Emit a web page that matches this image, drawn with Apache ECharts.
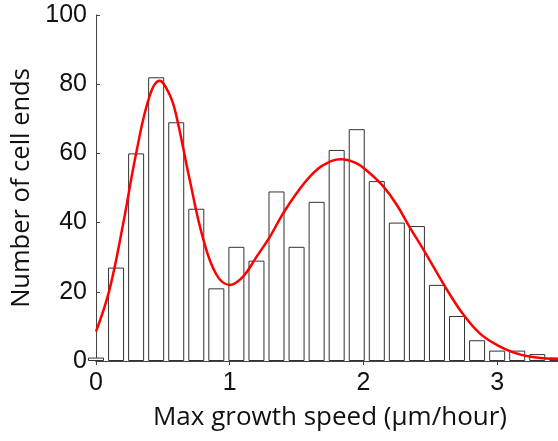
<!DOCTYPE html>
<html>
<head>
<meta charset="utf-8">
<script src="https://cdn.jsdelivr.net/npm/echarts@6/dist/echarts.min.js"></script>
<style>
  html, body { margin: 0; padding: 0; background: #fff; }
  #chart { width: 558px; height: 441px; }
</style>
</head>
<body>
<div id="chart"></div>
<script>
// histogram bins (centre of each bin, µm/hour) and counts
const binCenters = [0, 0.15, 0.3, 0.45, 0.6, 0.75, 0.9, 1.05, 1.2, 1.35, 1.5, 1.65,
  1.8, 1.95, 2.1, 2.25, 2.4, 2.55, 2.7, 2.85, 3.0, 3.15, 3.3, 3.45];
const counts = [1, 27, 60, 82, 69, 44, 21, 33, 29, 49, 33, 46,
  61, 67, 52, 40, 39, 22, 13, 6, 3, 3, 2, 1];

// fitted curve
const fitX = [0, 0.1, 0.2, 0.3, 0.4, 0.475, 0.55, 0.6, 0.7, 0.8, 0.9, 1.0,
  1.1, 1.2, 1.3, 1.4, 1.5, 1.6, 1.7, 1.83, 1.95, 2.05, 2.15, 2.25, 2.35, 2.45,
  2.55, 2.65, 2.75, 2.87, 3.0, 3.12, 3.25, 3.5];
const fitY = [8.5, 20.5, 39, 60, 76.5, 81, 77, 71, 52.5, 35.5, 25, 22,
  24.4, 30.1, 35.9, 42.7, 48.5, 53.3, 56.6, 58.3, 57.1, 54.2, 50.4, 45.1, 38.4, 32.1,
  25.5, 19, 13.3, 8, 4.6, 2.5, 1.2, 0.4];

const xTicks = [0, 1, 2, 3];
const yTicks = [0, 20, 40, 60, 80, 100];

const chart = echarts.init(document.getElementById('chart'));

const axisColor = '#444';
const tickFont = { fontFamily: 'Liberation Sans', fontSize: 25, color: '#111' };

chart.setOption({
  animation: false,
  grid: { left: 96, top: 15, width: 468, height: 346, outerBoundsMode: 'none' },
  xAxis: [
    {
      type: 'value',
      min: 0,
      max: 3.5,
      interval: 1,
      name: 'Max growth speed (µm/hour)',
      nameLocation: 'middle',
      nameGap: 44,
      nameTextStyle: { fontFamily: 'Open Sans', fontSize: 26, color: '#111' },
      axisLine: { onZero: false, lineStyle: { color: axisColor, width: 1 } },
      axisTick: { inside: true, length: 4, lineStyle: { color: axisColor } },
      axisLabel: {
        ...tickFont,
        margin: 10,
        formatter: (v) => (xTicks.includes(v) ? String(v) : '')
      },
      splitLine: { show: false }
    },
    {
      type: 'value',
      position: 'top',
      min: 0,
      max: 3.5,
      interval: 1,
      axisLine: { lineStyle: { color: axisColor, width: 1 } },
      axisTick: { inside: true, length: 4, lineStyle: { color: axisColor } },
      axisLabel: { show: false },
      splitLine: { show: false }
    }
  ],
  yAxis: {
    type: 'value',
    min: 0,
    max: 100,
    interval: 20,
    name: 'Number of cell ends',
    nameLocation: 'middle',
    nameGap: 57,
    nameTextStyle: { fontFamily: 'Open Sans', fontSize: 25.5, color: '#111' },
    axisLine: { show: true, lineStyle: { color: axisColor, width: 1 } },
    axisTick: { show: true, inside: true, length: 4, lineStyle: { color: axisColor } },
    axisLabel: {
      ...tickFont,
      margin: 9,
      formatter: (v) => (yTicks.includes(v) ? String(v) : '')
    },
    splitLine: { show: false }
  },
  series: [
    {
      type: 'bar',
      xAxisIndex: 0,
      barWidth: 16,
      clip: true,
      data: binCenters.map((x, i) => [x, counts[i]]),
      itemStyle: { color: '#fff', borderColor: '#333', borderWidth: 1 },
      emphasis: { disabled: true }
    },
    {
      type: 'line',
      xAxisIndex: 0,
      smooth: 0.4,
      symbol: 'none',
      clip: true,
      data: fitX.map((x, i) => [x, fitY[i]]),
      lineStyle: { color: '#f00', width: 2.5 },
      z: 5
    }
  ]
});
</script>
</body>
</html>
